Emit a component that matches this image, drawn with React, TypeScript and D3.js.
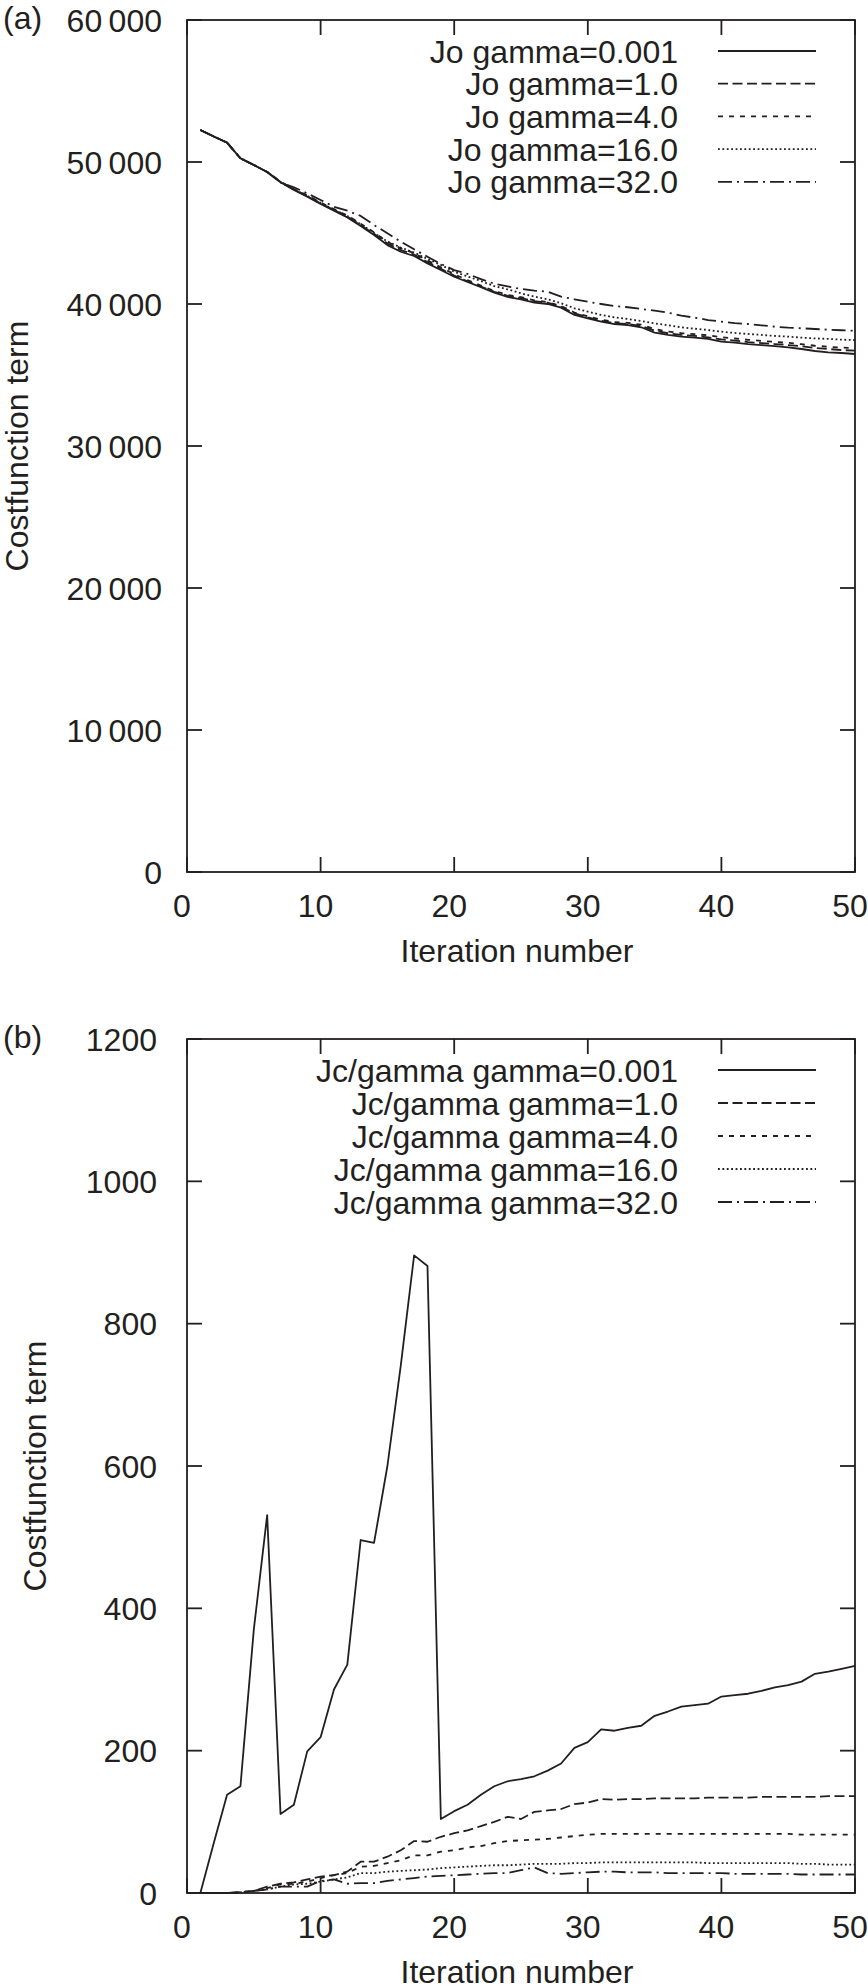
import * as d3 from 'd3';

// iteration numbers shared by every series
const iterations = d3.range(1, 51);

// (a) Jo term
const joGamma0001 = [
  52250, 51800, 51360, 50260, 49790, 49300, 48580, 48030, 47560, 47040,
  46570, 46100, 45490, 44860, 44150, 43680, 43380, 42860, 42390, 41920,
  41550, 41190, 40800, 40500, 40330, 40090, 40000, 39740, 39230, 38990,
  38760, 38590, 38520, 38360, 37980, 37820, 37700, 37630, 37540, 37350,
  37280, 37180, 37110, 37040, 36950, 36830, 36690, 36600, 36550, 36480,
];
const joGamma1 = [
  52250, 51800, 51360, 50260, 49790, 49300, 48600, 48060, 47600, 47080,
  46620, 46160, 45560, 44940, 44260, 43800, 43480, 42960, 42480, 42000,
  41600, 41230, 40860, 40580, 40420, 40210, 40090, 39810, 39340, 39060,
  38820, 38640, 38590, 38450, 38120, 37940, 37820, 37750, 37650, 37510,
  37420, 37320, 37250, 37180, 37110, 37020, 36900, 36830, 36760, 36710,
];
const joGamma4 = [
  52250, 51800, 51360, 50260, 49790, 49300, 48620, 48100, 47650, 47140,
  46680, 46230, 45650, 45040, 44380, 43920, 43580, 43060, 42580, 42100,
  41680, 41300, 40920, 40640, 40480, 40260, 40130, 39860, 39400, 39130,
  38900, 38730, 38670, 38540, 38230, 38060, 37950, 37880, 37790, 37660,
  37570, 37480, 37400, 37330, 37260, 37170, 37060, 36990, 36930, 36880,
];
const joGamma16 = [
  52250, 51800, 51360, 50260, 49790, 49300, 48580, 48080, 47620, 47120,
  46650, 46200, 45620, 45000, 44400, 43980, 43620, 43180, 42760, 42270,
  41940, 41620, 41260, 41030, 40750, 40520, 40330, 40050, 39700, 39460,
  39230, 39060, 38940, 38800, 38640, 38500, 38360, 38260, 38170, 38050,
  37960, 37890, 37820, 37750, 37700, 37630, 37580, 37540, 37490, 37460,
];
const joGamma32 = [
  52250, 51800, 51360, 50260, 49790, 49300, 48560, 48220, 47790, 47320,
  46850, 46570, 46200, 45560, 44980, 44390, 43850, 43330, 42820, 42390,
  42120, 41750, 41430, 41240, 41060, 40940, 40870, 40520, 40330, 40160,
  40000, 39860, 39770, 39650, 39530, 39390, 39180, 39040, 38870, 38760,
  38660, 38590, 38500, 38400, 38330, 38290, 38240, 38190, 38150, 38120,
];

// (b) Jc/gamma term
const jcGamma0001 = [
  0, 70, 138, 150, 370, 531, 111, 124, 199, 219,
  286, 321, 496, 492, 600, 741, 896, 881, 104, 115,
  124, 138, 150, 157, 160, 164, 172, 182, 204, 212,
  230, 228, 232, 235, 249, 255, 262, 264, 266, 276,
  278, 280, 284, 289, 292, 297, 308, 311, 315, 319,
];
const jcGamma1 = [
  0, 0, 0, 1, 3, 9, 13, 15, 19, 23,
  25, 30, 44, 44, 51, 60, 73, 72, 79, 84,
  88, 94, 100, 107, 104, 114, 116, 118, 125, 127,
  132, 131, 132, 132, 133, 133, 133, 133, 134, 134,
  134, 134, 135, 135, 135, 135, 135, 136, 136, 136,
];
const jcGamma4 = [
  0, 0, 0, 1, 3, 7, 12, 13, 16, 21,
  25, 28, 37, 38, 42, 46, 53, 53, 58, 60,
  64, 66, 70, 73, 74, 75, 76, 78, 80, 82,
  83, 83, 83, 83, 83, 83, 83, 83, 83, 83,
  83, 83, 83, 83, 83, 82, 82, 82, 82, 82,
];
const jcGamma16 = [
  0, 0, 0, 1, 3, 5, 9, 12, 13, 16,
  19, 22, 28, 28, 30, 31, 32, 33, 35, 36,
  37, 38, 39, 39, 40, 41, 41, 41, 42, 42,
  43, 43, 43, 43, 43, 43, 43, 43, 42, 42,
  42, 42, 42, 42, 42, 41, 41, 40, 40, 40,
];
const jcGamma32 = [
  0, 0, 0, 1, 3, 5, 9, 9, 9, 17,
  19, 13, 14, 14, 17, 19, 21, 23, 24, 25,
  26, 27, 28, 28, 32, 36, 28, 27, 28, 29,
  30, 30, 29, 29, 29, 28, 28, 28, 28, 28,
  27, 27, 27, 27, 27, 26, 26, 26, 26, 26,
];

const joLabels = ['Jo gamma=0.001', 'Jo gamma=1.0', 'Jo gamma=4.0', 'Jo gamma=16.0', 'Jo gamma=32.0'];
const jcLabels = [
  'Jc/gamma gamma=0.001',
  'Jc/gamma gamma=1.0',
  'Jc/gamma gamma=4.0',
  'Jc/gamma gamma=16.0',
  'Jc/gamma gamma=32.0',
];
const joTicks = [0, 10000, 20000, 30000, 40000, 50000, 60000];
const jcTicks = [0, 200, 400, 600, 800, 1000, 1200];
const xTicks = [0, 10, 20, 30, 40, 50];

// gnuplot-like line types: solid, dashed, short dash, dotted, dash-dot
const DASHES = ['none', '10,4.5', '5,6', '1.8,2.6', '14,5,2,5'];

const INK = '#231f20';
const FONT = '"Liberation Sans", Arial, Helvetica, sans-serif';
const FS = 32;

const left = 187;
const right = 855;

interface PanelProps {
  tag: string;
  top: number;
  bottom: number;
  series: number[][];
  labels: string[];
  yTicks: number[];
  yFormat: (v: number) => string;
  tickLabelX: number;
  yLabelX: number;
  legendTop: number;
  legendStep: number;
}

function Panel({
  tag,
  top,
  bottom,
  series,
  labels,
  yTicks,
  yFormat,
  tickLabelX,
  yLabelX,
  legendTop,
  legendStep,
}: PanelProps) {
  const x = d3.scaleLinear().domain([0, 50]).range([left, right]);
  const y = d3
    .scaleLinear()
    .domain([yTicks[0], yTicks[yTicks.length - 1]])
    .range([bottom, top]);

  const line = d3
    .line<number>()
    .x((_, i) => x(iterations[i]))
    .y((d) => y(d));

  const tickLen = 15;
  const mid = (top + bottom) / 2;

  return (
    <g>
      <text x={3} y={top + 9} fontSize={FS} fill={INK}>
        {tag}
      </text>

      {/* data */}
      {series.map((s, i) => (
        <path
          key={labels[i]}
          d={line(s) ?? ''}
          fill="none"
          stroke={INK}
          strokeWidth={1.8}
          strokeDasharray={DASHES[i]}
          strokeLinejoin="round"
        />
      ))}

      {/* frame and ticks */}
      <rect
        x={left}
        y={top}
        width={right - left}
        height={bottom - top}
        fill="none"
        stroke={INK}
        strokeWidth={1.8}
      />
      {yTicks.map((t) => (
        <g key={`y${t}`}>
          <line x1={left} x2={left + tickLen} y1={y(t)} y2={y(t)} stroke={INK} strokeWidth={1.8} />
          <line x1={right} x2={right - tickLen} y1={y(t)} y2={y(t)} stroke={INK} strokeWidth={1.8} />
          <text
            x={tickLabelX}
            y={y(t)}
            dy="0.36em"
            textAnchor="end"
            fontSize={FS}
            fill={INK}
          >
            {yFormat(t)}
          </text>
        </g>
      ))}
      {xTicks.map((t) => (
        <g key={`x${t}`}>
          <line x1={x(t)} x2={x(t)} y1={bottom} y2={bottom - tickLen} stroke={INK} strokeWidth={1.8} />
          <line x1={x(t)} x2={x(t)} y1={top} y2={top + tickLen} stroke={INK} strokeWidth={1.8} />
          <text x={x(t) - 5} y={bottom + 45} textAnchor="middle" fontSize={FS} fill={INK}>
            {t}
          </text>
        </g>
      ))}

      {/* axis titles */}
      <text
        transform={`translate(${yLabelX},${mid}) rotate(-90)`}
        textAnchor="middle"
        fontSize={FS}
        fill={INK}
      >
        Costfunction term
      </text>
      <text x={(left + right) / 2 - 4} y={bottom + 90} textAnchor="middle" fontSize={FS} fill={INK}>
        Iteration number
      </text>

      {/* legend */}
      {labels.map((l, i) => {
        const ly = legendTop + i * legendStep;
        return (
          <g key={`leg${l}`}>
            <text x={678} y={ly} dy="0.36em" textAnchor="end" fontSize={FS} fill={INK}>
              {l}
            </text>
            <line
              x1={718}
              x2={816}
              y1={ly}
              y2={ly}
              stroke={INK}
              strokeWidth={1.8}
              strokeDasharray={DASHES[i]}
            />
          </g>
        );
      })}
    </g>
  );
}

const thousands = (v: number) => (v === 0 ? '0' : d3.format(',')(v).replace(',', '\u2009'));

export default function App() {
  return (
    <svg
      width={868}
      height={1986}
      style={{ position: 'absolute', left: 0, top: 0, background: '#fff' }}
      fontFamily={FONT}
    >
      <rect width={868} height={1986} fill="#fff" />
      <Panel
        tag="(a)"
        top={20}
        bottom={872}
        series={[joGamma0001, joGamma1, joGamma4, joGamma16, joGamma32]}
        labels={joLabels}
        yTicks={joTicks}
        yFormat={thousands}
        tickLabelX={162}
        yLabelX={28}
        legendTop={51}
        legendStep={32.7}
      />
      <Panel
        tag="(b)"
        top={1039}
        bottom={1893}
        series={[jcGamma0001, jcGamma1, jcGamma4, jcGamma16, jcGamma32]}
        labels={jcLabels}
        yTicks={jcTicks}
        yFormat={(v) => String(v)}
        tickLabelX={157}
        yLabelX={46}
        legendTop={1070}
        legendStep={33}
      />
    </svg>
  );
}
